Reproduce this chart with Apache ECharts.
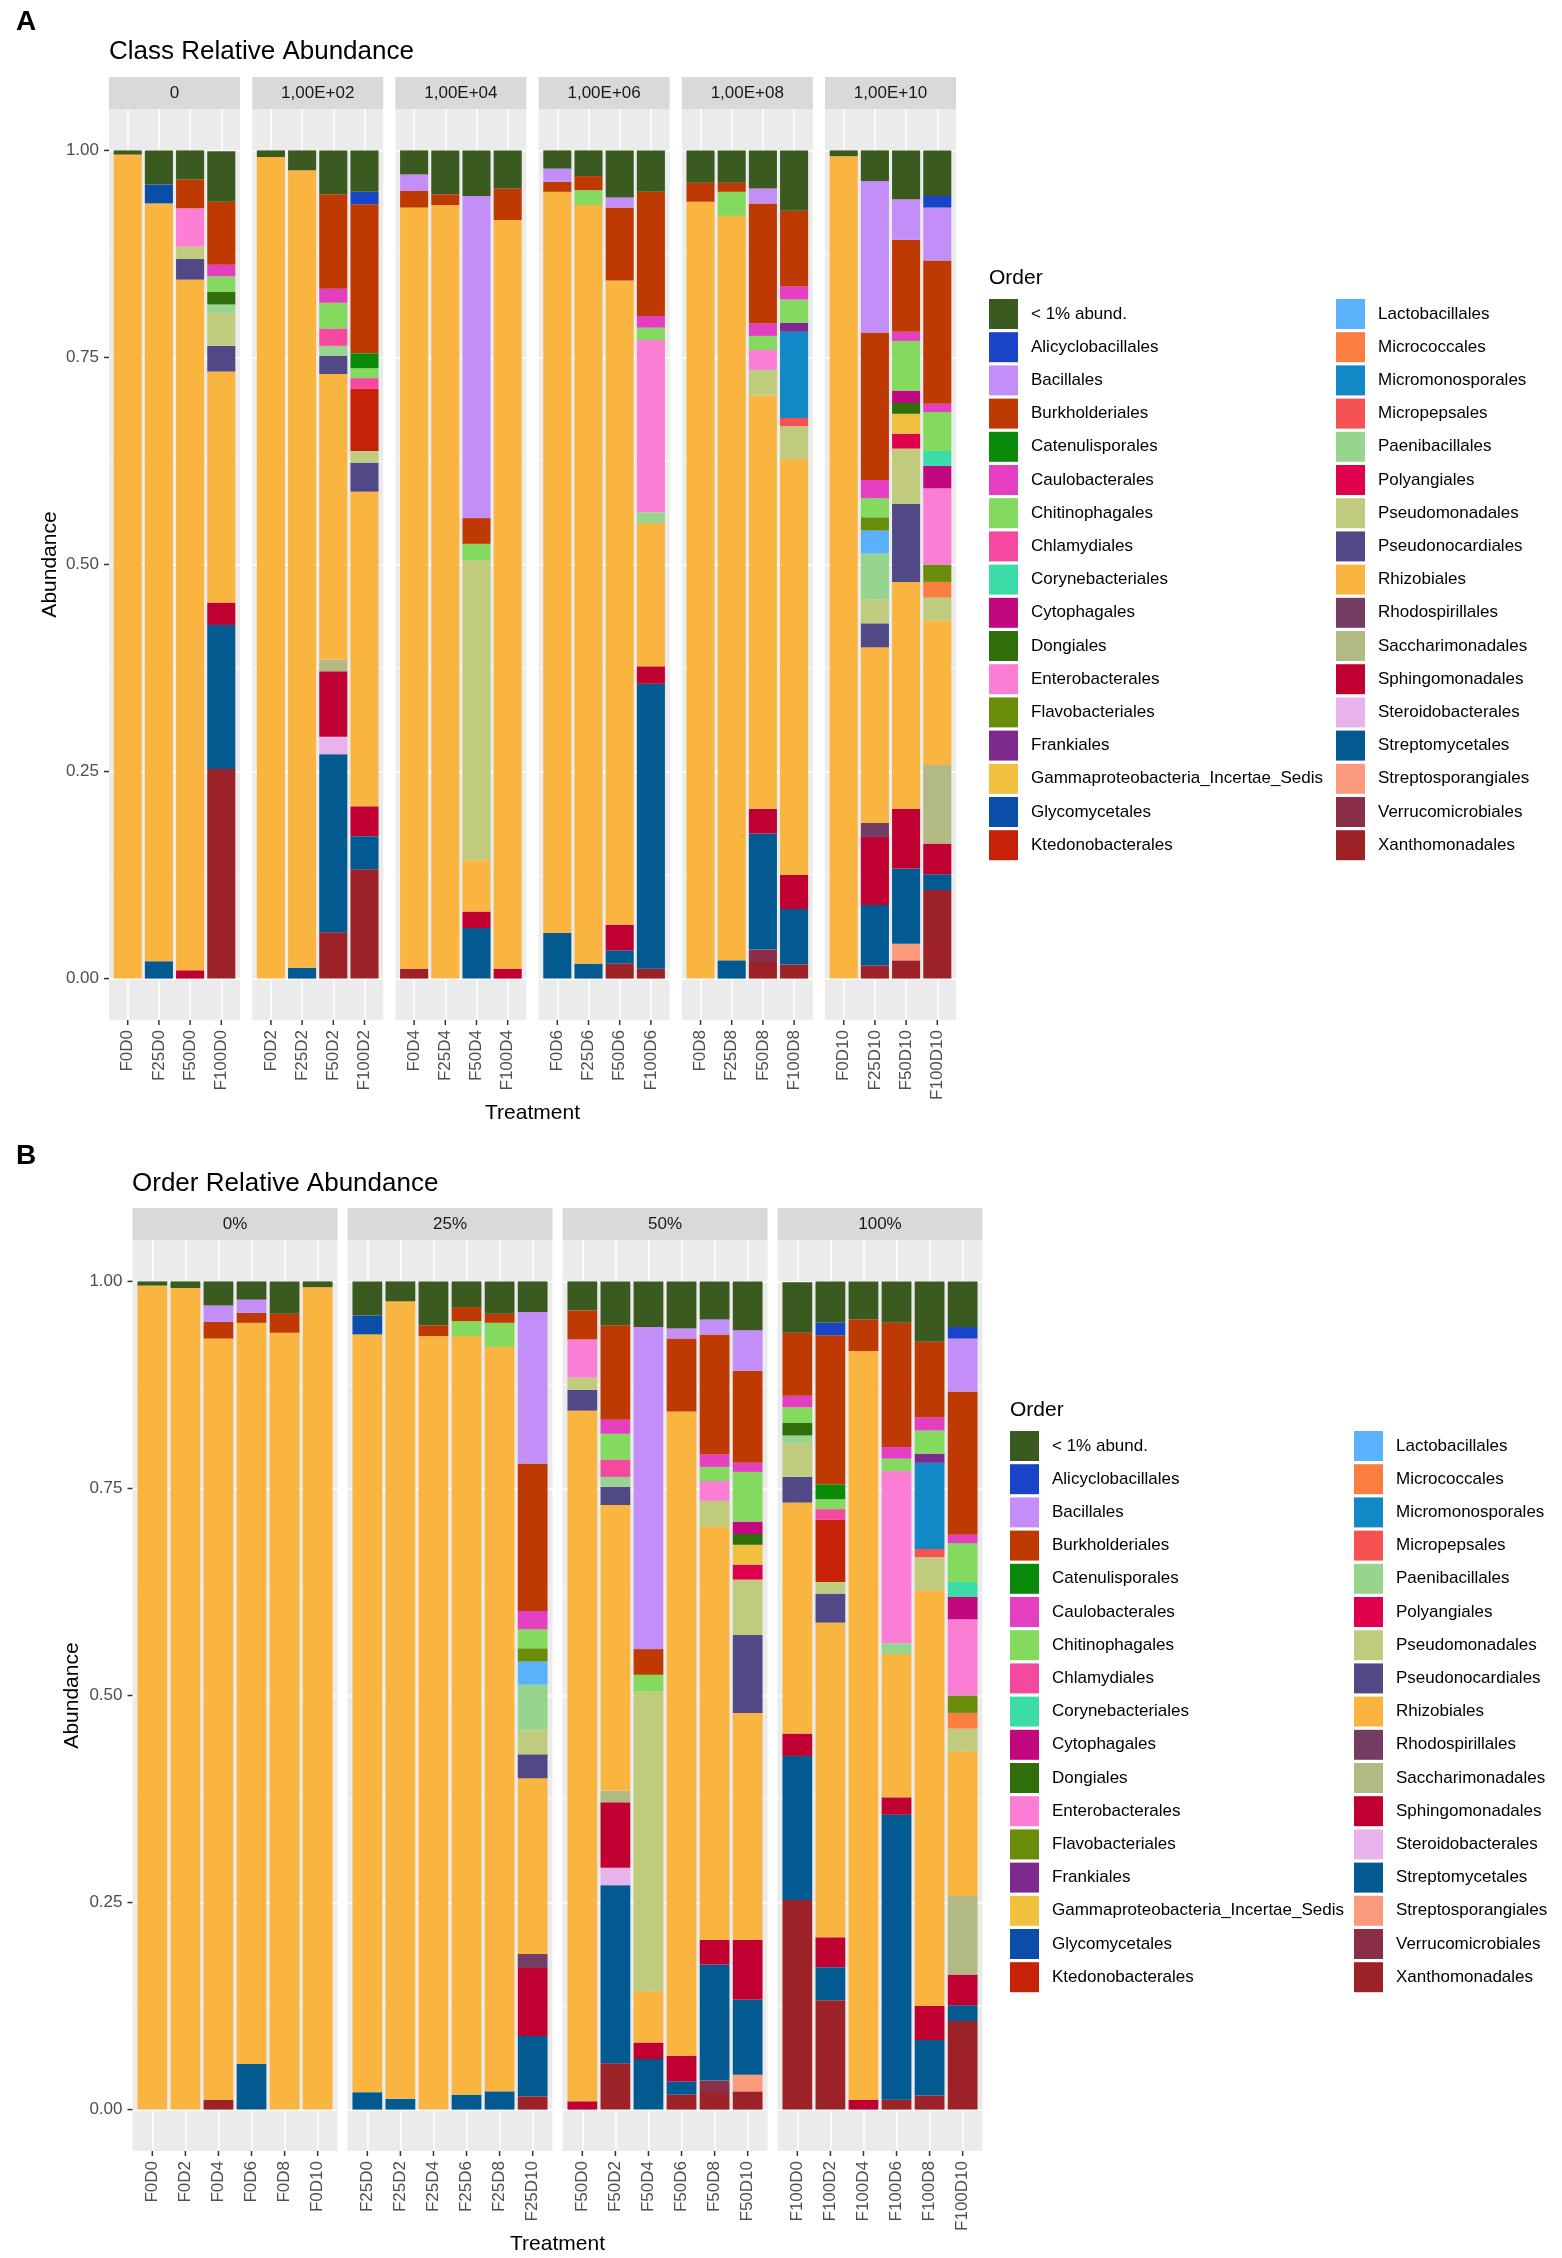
<!DOCTYPE html>
<html>
<head>
<meta charset="utf-8">
<script src="https://cdn.jsdelivr.net/npm/echarts@6/dist/echarts.min.js"></script>
<style>
  html, body { margin: 0; padding: 0; background: #fff; }
  #chart { width: 1562px; height: 2258px; }
</style>
</head>
<body>
<div id="chart"></div>
<script>
// legend order (ggplot stacks the first one on top)
const orders = [
  '< 1% abund.', 'Alicyclobacillales', 'Bacillales', 'Burkholderiales', 'Catenulisporales',
  'Caulobacterales', 'Chitinophagales', 'Chlamydiales', 'Corynebacteriales', 'Cytophagales',
  'Dongiales', 'Enterobacterales', 'Flavobacteriales', 'Frankiales',
  'Gammaproteobacteria_Incertae_Sedis', 'Glycomycetales', 'Ktedonobacterales',
  'Lactobacillales', 'Micrococcales', 'Micromonosporales', 'Micropepsales', 'Paenibacillales',
  'Polyangiales', 'Pseudomonadales', 'Pseudonocardiales', 'Rhizobiales', 'Rhodospirillales',
  'Saccharimonadales', 'Sphingomonadales', 'Steroidobacterales', 'Streptomycetales',
  'Streptosporangiales', 'Verrucomicrobiales', 'Xanthomonadales'
];
const orderColors = [
  '#3A5A20', '#1A44C8', '#C38EF7', '#BF3A02', '#0A8A0A',
  '#E33FC0', '#84D95F', '#F5489F', '#3CDCA8', '#C2087E',
  '#306E0C', '#FB7ED4', '#698C0A', '#7C2B8C',
  '#F0C13F', '#0B4EA8', '#C52207',
  '#5AB2FA', '#FB7E41', '#1089C6', '#F75252', '#97D48D',
  '#DF004E', '#C1CB7D', '#514886', '#FAB541', '#743C63',
  '#B2B983', '#BF0030', '#E8B3EC', '#025A90',
  '#FC9A7D', '#8A2F47', '#9C2227'
];

const fertLevels = ['F0', 'F25', 'F50', 'F100'];
const doseLevels = ['D0', 'D2', 'D4', 'D6', 'D8', 'D10'];
const doseLabels = ['0', '1,00E+02', '1,00E+04', '1,00E+06', '1,00E+08', '1,00E+10'];
const fertLabels = ['0%', '25%', '50%', '100%'];
const yTickLabels = ['0.00', '0.25', '0.50', '0.75', '1.00'];

const F0D0 = [['< 1% abund.', 0.005], ['Rhizobiales', 0.995]];
const F25D0 = [['< 1% abund.', 0.041], ['Glycomycetales', 0.023], ['Rhizobiales', 0.915], ['Streptomycetales', 0.021]];
const F50D0 = [['< 1% abund.', 0.035], ['Burkholderiales', 0.035], ['Enterobacterales', 0.046], ['Pseudomonadales', 0.015],
  ['Pseudonocardiales', 0.025], ['Rhizobiales', 0.834], ['Sphingomonadales', 0.010]];
const F100D0 = [['< 1% abund.', 0.061], ['Burkholderiales', 0.076], ['Caulobacterales', 0.014], ['Chitinophagales', 0.019],
  ['Dongiales', 0.015], ['Paenibacillales', 0.010], ['Pseudomonadales', 0.040], ['Pseudonocardiales', 0.031],
  ['Rhizobiales', 0.279], ['Sphingomonadales', 0.027], ['Streptomycetales', 0.174], ['Xanthomonadales', 0.253]];

const F0D2 = [['< 1% abund.', 0.008], ['Rhizobiales', 0.992]];
const F25D2 = [['< 1% abund.', 0.024], ['Rhizobiales', 0.963], ['Streptomycetales', 0.013]];
const F50D2 = [['< 1% abund.', 0.053], ['Burkholderiales', 0.114], ['Caulobacterales', 0.017], ['Chitinophagales', 0.031],
  ['Chlamydiales', 0.021], ['Paenibacillales', 0.012], ['Pseudonocardiales', 0.022], ['Rhizobiales', 0.345],
  ['Saccharimonadales', 0.014], ['Sphingomonadales', 0.079], ['Steroidobacterales', 0.021],
  ['Streptomycetales', 0.215], ['Xanthomonadales', 0.056]];
const F100D2 = [['< 1% abund.', 0.050], ['Alicyclobacillales', 0.015], ['Burkholderiales', 0.180], ['Catenulisporales', 0.018],
  ['Chitinophagales', 0.012], ['Chlamydiales', 0.013], ['Ktedonobacterales', 0.075], ['Pseudomonadales', 0.014],
  ['Pseudonocardiales', 0.035], ['Rhizobiales', 0.380], ['Sphingomonadales', 0.036], ['Streptomycetales', 0.040],
  ['Xanthomonadales', 0.132]];

const F0D4 = [['< 1% abund.', 0.029], ['Bacillales', 0.020], ['Burkholderiales', 0.020], ['Rhizobiales', 0.919], ['Xanthomonadales', 0.012]];
const F25D4 = [['< 1% abund.', 0.053], ['Burkholderiales', 0.013], ['Rhizobiales', 0.934]];
const F50D4 = [['< 1% abund.', 0.055], ['Bacillales', 0.389], ['Burkholderiales', 0.031], ['Chitinophagales', 0.020],
  ['Pseudomonadales', 0.362], ['Rhizobiales', 0.062], ['Sphingomonadales', 0.020], ['Streptomycetales', 0.061]];
const F100D4 = [['< 1% abund.', 0.046], ['Burkholderiales', 0.038], ['Rhizobiales', 0.904], ['Sphingomonadales', 0.012]];

const F0D6 = [['< 1% abund.', 0.022], ['Bacillales', 0.016], ['Burkholderiales', 0.012], ['Rhizobiales', 0.895], ['Streptomycetales', 0.055]];
const F25D6 = [['< 1% abund.', 0.031], ['Burkholderiales', 0.017], ['Chitinophagales', 0.018], ['Rhizobiales', 0.916], ['Streptomycetales', 0.018]];
const F50D6 = [['< 1% abund.', 0.057], ['Bacillales', 0.012], ['Burkholderiales', 0.088], ['Rhizobiales', 0.778],
  ['Sphingomonadales', 0.031], ['Streptomycetales', 0.016], ['Xanthomonadales', 0.018]];
const F100D6 = [['< 1% abund.', 0.050], ['Burkholderiales', 0.150], ['Caulobacterales', 0.014], ['Chitinophagales', 0.015],
  ['Enterobacterales', 0.208], ['Paenibacillales', 0.013], ['Rhizobiales', 0.173], ['Sphingomonadales', 0.021],
  ['Streptomycetales', 0.344], ['Xanthomonadales', 0.012]];

const F0D8 = [['< 1% abund.', 0.039], ['Burkholderiales', 0.023], ['Rhizobiales', 0.938]];
const F25D8 = [['< 1% abund.', 0.039], ['Burkholderiales', 0.011], ['Chitinophagales', 0.029], ['Rhizobiales', 0.899], ['Streptomycetales', 0.022]];
const F50D8 = [['< 1% abund.', 0.046], ['Bacillales', 0.018], ['Burkholderiales', 0.145], ['Caulobacterales', 0.015],
  ['Chitinophagales', 0.017], ['Enterobacterales', 0.024], ['Pseudomonadales', 0.031], ['Rhizobiales', 0.499],
  ['Sphingomonadales', 0.030], ['Streptomycetales', 0.140], ['Verrucomicrobiales', 0.015], ['Xanthomonadales', 0.020]];
const F100D8 = [['< 1% abund.', 0.073], ['Burkholderiales', 0.091], ['Caulobacterales', 0.016], ['Chitinophagales', 0.028],
  ['Frankiales', 0.011], ['Micromonosporales', 0.104], ['Micropepsales', 0.010], ['Pseudomonadales', 0.040],
  ['Rhizobiales', 0.502], ['Sphingomonadales', 0.041], ['Streptomycetales', 0.067], ['Xanthomonadales', 0.017]];

const F0D10 = [['< 1% abund.', 0.007], ['Rhizobiales', 0.993]];
const F25D10 = [['< 1% abund.', 0.037], ['Bacillales', 0.183], ['Burkholderiales', 0.178], ['Caulobacterales', 0.022],
  ['Chitinophagales', 0.023], ['Flavobacteriales', 0.016], ['Lactobacillales', 0.028], ['Paenibacillales', 0.055],
  ['Pseudomonadales', 0.029], ['Pseudonocardiales', 0.029], ['Rhizobiales', 0.212], ['Rhodospirillales', 0.017],
  ['Sphingomonadales', 0.082], ['Streptomycetales', 0.073], ['Xanthomonadales', 0.016]];
const F50D10 = [['< 1% abund.', 0.059], ['Bacillales', 0.049], ['Burkholderiales', 0.111], ['Caulobacterales', 0.011],
  ['Chitinophagales', 0.060], ['Cytophagales', 0.015], ['Dongiales', 0.013], ['Gammaproteobacteria_Incertae_Sedis', 0.024],
  ['Polyangiales', 0.018], ['Pseudomonadales', 0.067], ['Pseudonocardiales', 0.094], ['Rhizobiales', 0.274],
  ['Sphingomonadales', 0.072], ['Streptomycetales', 0.091], ['Streptosporangiales', 0.020], ['Xanthomonadales', 0.022]];
const F100D10 = [['< 1% abund.', 0.055], ['Alicyclobacillales', 0.014], ['Bacillales', 0.064], ['Burkholderiales', 0.173],
  ['Caulobacterales', 0.010], ['Chitinophagales', 0.047], ['Corynebacteriales', 0.018], ['Cytophagales', 0.027],
  ['Enterobacterales', 0.092], ['Flavobacteriales', 0.021], ['Micrococcales', 0.019], ['Pseudomonadales', 0.028],
  ['Rhizobiales', 0.174], ['Saccharimonadales', 0.095], ['Sphingomonadales', 0.037], ['Streptomycetales', 0.019],
  ['Xanthomonadales', 0.107]];

const sampleData = {
  F0D0, F25D0, F50D0, F100D0, F0D2, F25D2, F50D2, F100D2, F0D4, F25D4, F50D4, F100D4,
  F0D6, F25D6, F50D6, F100D6, F0D8, F25D8, F50D8, F100D8, F0D10, F25D10, F50D10, F100D10
};

const FONT = 'Liberation Sans, Arial, Helvetica, sans-serif';
const NONE = 'rgba(0,0,0,0)';
const TEXT_SIZE = 17;

function abundance(sample, order) {
  const hit = sampleData[sample].find(p => p[0] === order);
  return hit ? hit[1] : 0;
}

// little tick mark glued to the end of each axis label
const tickRich = {
  g: { width: 5 },
  t: { width: 5, height: 1.5, backgroundColor: '#333333', verticalAlign: 'middle' }
};

const grids = [], xAxes = [], yAxes = [], series = [], graphics = [];

function addPanel(p) {
  p.facets.forEach((facet, i) => {
    const left = p.left + p.step * i;
    const n = facet.samples.length;
    const unit = p.width / (n + 0.2);   // ggplot pads a discrete axis by 0.6 each side

    // panel background + grid lines (value axes, bar centres at integers)
    const gb = grids.length;
    grids.push({ left: left, top: p.top, width: p.width, height: p.height,
      show: true, backgroundColor: '#EBEBEB', borderWidth: 0 });
    xAxes.push({
      gridIndex: gb, type: 'value', min: -0.6, max: n - 0.4, interval: 0.2,
      axisLine: { show: false, onZero: false }, axisTick: { show: false }, axisLabel: { show: false },
      splitLine: { show: true, lineStyle: { color: [NONE, NONE, NONE, '#FFFFFF', NONE], width: 1.5 } }
    });
    yAxes.push({
      gridIndex: gb, type: 'value', min: -0.05, max: 1.05, interval: 0.025,
      axisLine: { show: false, onZero: false }, axisTick: { show: false },
      splitLine: { show: true, lineStyle: {
        color: [NONE, NONE, '#FFFFFF', NONE, NONE, NONE, NONE, '#F6F6F6', NONE, NONE], width: 1.5 } },
      axisLabel: {
        show: i === 0, margin: 0, fontSize: TEXT_SIZE, fontFamily: FONT, color: '#4D4D4D', rich: tickRich,
        formatter: v => {
          const q = v * 4, k = Math.round(q);
          if (Math.abs(q - k) > 1e-6 || k < 0 || k > 4) return '';
          return yTickLabels[k] + '{g|}{t|}';
        }
      }
    });

    // bar layer: one category band per sample
    const g = grids.length;
    grids.push({ left: left + 0.1 * unit, top: p.top, width: n * unit, height: p.height, show: false });
    xAxes.push({
      gridIndex: g, type: 'category', data: facet.samples,
      axisLine: { show: false }, axisTick: { show: false }, splitLine: { show: false },
      axisLabel: {
        interval: 0, rotate: 90, margin: 0, fontSize: TEXT_SIZE, fontFamily: FONT, color: '#4D4D4D', rich: tickRich,
        formatter: name => name + '{g|}{t|}'
      }
    });
    yAxes.push({ gridIndex: g, type: 'value', min: -0.05, max: 1.05, show: false });

    // bottom of the stack first
    for (let o = orders.length - 1; o >= 0; o--) {
      series.push({
        type: 'bar', name: orders[o], xAxisIndex: g, yAxisIndex: g, stack: 'facet' + g,
        barWidth: 0.9 * unit, silent: true,
        itemStyle: { color: orderColors[o] },
        data: facet.samples.map(s => abundance(s, orders[o]))
      });
    }

    // facet strip
    graphics.push({ type: 'rect', shape: { x: left, y: p.top - p.stripH, width: p.width, height: p.stripH },
      style: { fill: '#D9D9D9' }, silent: true });
    graphics.push({ type: 'text', x: left + p.width / 2, y: p.top - p.stripH / 2, silent: true,
      style: { text: facet.label, fontSize: TEXT_SIZE, fontFamily: FONT, fill: '#1A1A1A', align: 'center', verticalAlign: 'middle' } });
  });

  const spanMid = p.left + (p.step * (p.facets.length - 1) + p.width) / 2;
  graphics.push(
    { type: 'text', x: p.tagX, y: p.tagY, style: { text: p.tag, fontSize: 28, fontWeight: 'bold', fontFamily: FONT,
      fill: '#000', align: 'left', verticalAlign: 'middle' } },
    { type: 'text', x: p.titleX, y: p.titleY, style: { text: p.title, fontSize: 26, fontFamily: FONT,
      fill: '#000', align: 'left', verticalAlign: 'middle' } },
    { type: 'text', x: spanMid, y: p.xNameY, style: { text: 'Treatment', fontSize: 21, fontFamily: FONT,
      fill: '#000', align: 'center', verticalAlign: 'middle' } },
    { type: 'text', x: p.yNameX, y: p.top + p.height / 2, rotation: Math.PI / 2,
      style: { text: 'Abundance', fontSize: 21, fontFamily: FONT, fill: '#000', align: 'center', verticalAlign: 'middle' } },
    { type: 'text', x: p.legendX, y: p.legendTop - 21, style: { text: 'Order', fontSize: 21, fontFamily: FONT,
      fill: '#000', align: 'left', verticalAlign: 'middle' } }
  );
}

addPanel({
  tag: 'A', tagX: 16, tagY: 22, title: 'Class Relative Abundance', titleX: 109, titleY: 52,
  facets: doseLevels.map((d, i) => ({ label: doseLabels[i], samples: fertLevels.map(f => f + d) })),
  left: 109, step: 143.2, width: 131, top: 109, height: 911, stripH: 32,
  xNameY: 1113, yNameX: 50, legendX: 989, legendTop: 299
});

addPanel({
  tag: 'B', tagX: 16, tagY: 1156, title: 'Order Relative Abundance', titleX: 132, titleY: 1184,
  facets: fertLevels.map((f, i) => ({ label: fertLabels[i], samples: doseLevels.map(d => f + d) })),
  left: 132.5, step: 215, width: 205, top: 1240, height: 911, stripH: 32,
  xNameY: 2244, yNameX: 72, legendX: 1010, legendTop: 1431
});

function legendColumn(names, left, top) {
  return {
    data: names, orient: 'vertical', left: left, top: top, padding: 0,
    itemWidth: 29, itemHeight: 30, itemGap: 3.2, icon: 'rect', selectedMode: false,
    itemStyle: { borderWidth: 0 },
    textStyle: { fontSize: TEXT_SIZE, fontFamily: FONT, color: '#000', padding: [0, 0, 0, 8] }
  };
}

const chart = echarts.init(document.getElementById('chart'));
chart.setOption({
  animation: false,
  backgroundColor: '#FFFFFF',
  grid: grids,
  xAxis: xAxes,
  yAxis: yAxes,
  series: series,
  legend: [
    legendColumn(orders.slice(0, 17), 989, 299),
    legendColumn(orders.slice(17), 1336, 299),
    legendColumn(orders.slice(0, 17), 1010, 1431),
    legendColumn(orders.slice(17), 1354, 1431)
  ],
  graphic: graphics
});
</script>
</body>
</html>
